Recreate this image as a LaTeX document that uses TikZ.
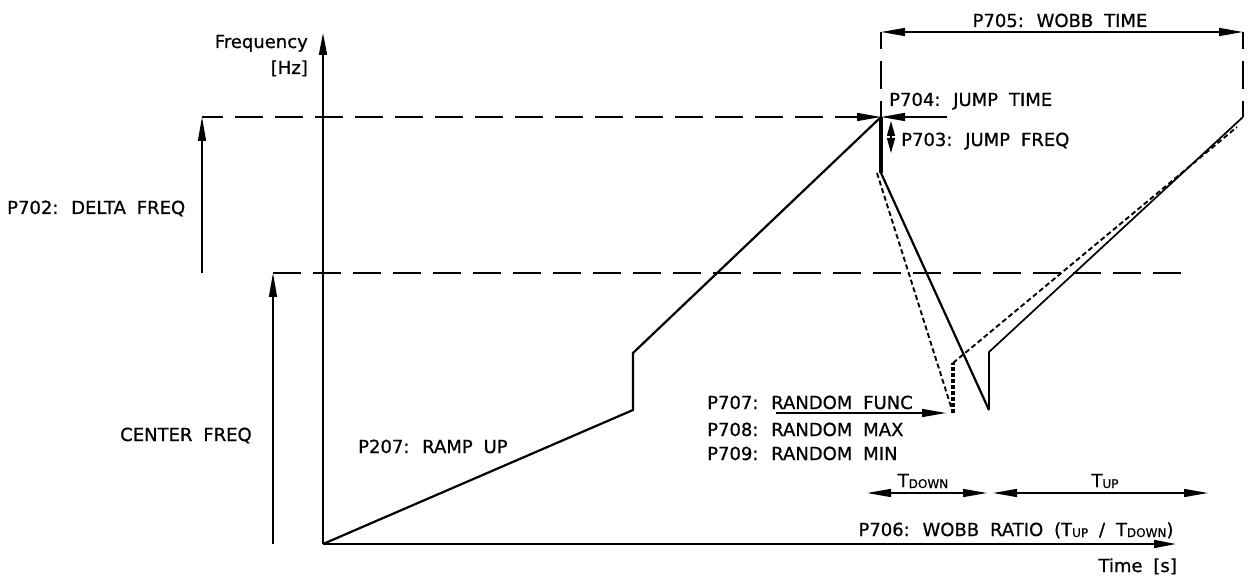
\documentclass[tikz,border=0pt]{standalone}
\usepackage{fontspec}
\setmainfont{DejaVu Sans}[WordSpace=1.9, FakeBold=0.8]
\usetikzlibrary{arrows.meta}
\newcommand{\subtx}[1]{\raisebox{-1pt}{\fontsize{12}{12}\selectfont #1}}
\begin{document}
\begin{tikzpicture}[x=1pt,y=-1pt,
  lbl/.style={inner sep=0pt, font=\fontsize{18}{21}\selectfont},
  axisline/.style={line width=1.6pt, -{Triangle[length=22pt,width=8pt]}},
  curve/.style={line width=2.2pt, line join=miter},
  curvethin/.style={line width=1.7pt, line join=miter},
  ldash/.style={line width=1.4pt, dash pattern=on 28pt off 12pt},
  sdot/.style={line width=1.9pt, dash pattern=on 5pt off 3pt},
  dimline/.style={line width=1.4pt},
  tipone/.style={-{Triangle[length=24pt,width=8pt]}},
  tipdbl/.style={{Triangle[length=24pt,width=8pt]}-{Triangle[length=24pt,width=8pt]}},
  tipsmall/.style={{Triangle[length=15pt,width=8pt]}-{Triangle[length=15pt,width=8pt]}}]
\useasboundingbox (0,0) rectangle (1248,577);
% coordinates
\coordinate (O) at (323,544);
\coordinate (Ytop) at (323,33);
\coordinate (Xend) at (1176,544);
\coordinate (A) at (633,410);
\coordinate (B) at (633,353);
\coordinate (P) at (881,117);
\coordinate (J) at (881,173);
\coordinate (C) at (989,410);
\coordinate (D) at (989,352);
\coordinate (E) at (1243,117);
\coordinate (Jd) at (877,173);
\coordinate (F) at (953,413);
\coordinate (Fu) at (953,363);
\coordinate (G) at (1237,127);
\coordinate (UL) at (202,117);
\coordinate (Pl) at (850,117);
\coordinate (LL) at (273,273);
\coordinate (LR) at (1184,273);
\coordinate (DFb) at (202,273);
\coordinate (CFb) at (273,544);
\coordinate (JTr) at (947,117);
\coordinate (WTl) at (881,32);
\coordinate (WTr) at (1243,32);
\coordinate (JFa) at (891,121);
\coordinate (JFb) at (891,153);
\coordinate (RFa) at (776,413);
\coordinate (RFb) at (946,413);
\coordinate (TDa) at (867,493);
\coordinate (TDb) at (987,493);
\coordinate (TUa) at (993,493);
\coordinate (TUb) at (1208,493);
% axes
\draw[axisline] (O) -- (Ytop);
\draw[axisline] (O) -- (Xend);
% dashed levels
\draw[ldash, dash phase=7pt] (UL) -- (Pl);
\draw[ldash] (LL) -- (LR);
\draw[dimline, tipone] (DFb) -- (UL);
\draw[dimline, tipone] (CFb) -- (LL);
% wobble time dimension
\draw[ldash, dash phase=11pt] (WTl) -- (P);
\draw[ldash, dash phase=11pt] (WTr) -- (E);
\draw[dimline, tipdbl] (WTl) -- (WTr);
% jump time / jump freq
\draw[dimline, tipone] (Pl) -- (P);
\draw[dimline, tipone] (JTr) -- (P);
\draw[dimline, tipsmall] (JFa) -- (JFb);
% curves
\draw[curve] (O) -- (A) -- (B) -- (P);
\draw[line width=3.4pt] (P) -- (J);
\draw[curve] (J) -- (C);
\draw[curvethin] (C) -- (D) -- (E);
\draw[sdot] (Jd) -- (F);
\draw[line width=3.4pt, dash pattern=on 4pt off 2pt] (F) -- (Fu);
\draw[sdot] (Fu) -- (G);
% random func arrow
\draw[dimline, tipone] (RFa) -- (RFb);
% T down / T up
\draw[dimline, tipdbl] (TDa) -- (TDb);
\draw[dimline, tipdbl] (TUa) -- (TUb);
% labels
\node[lbl, anchor=base east] (lfreq) at (308,48) {Frequency};
\node[lbl, anchor=base east] (lhz) at (308,74) {[Hz]};
\node[lbl, anchor=base west] (ldelta) at (7,214) {P702: DELTA FREQ};
\node[lbl, anchor=base west] (lcenter) at (120,441) {CENTER FREQ};
\node[lbl, anchor=base west] (lramp) at (358,453) {P207: RAMP UP};
\node[lbl, anchor=base west] (lfunc) at (707,409) {P707: RANDOM FUNC};
\node[lbl, anchor=base west] (lmax) at (707,436) {P708: RANDOM MAX};
\node[lbl, anchor=base west] (lmin) at (707,460) {P709: RANDOM MIN};
\node[lbl, anchor=base] (lwobb) at (1060,27) {P705: WOBB TIME};
\node[lbl, anchor=base west] (ljt) at (889,106) {P704: JUMP TIME};
\node[lbl, anchor=base west] (ljf) at (901,146) {P703: JUMP FREQ};
\node[lbl, anchor=base] (ltd) at (923,487) {T\subtx{DOWN}};
\node[lbl, anchor=base] (ltu) at (1105,487) {T\subtx{UP}};
\node[lbl, anchor=base] (lratio) at (1016,536) {P706: WOBB RATIO (T\subtx{UP} / T\subtx{DOWN})};
\node[lbl, anchor=base east] (ltime) at (1177,572) {Time [s]};
\end{tikzpicture}
\end{document}
